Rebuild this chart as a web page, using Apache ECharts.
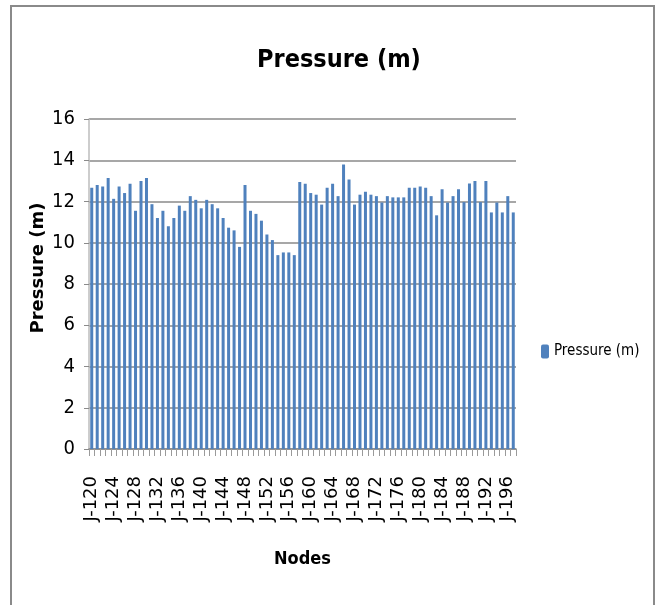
<!DOCTYPE html>
<html>
<head>
<meta charset="utf-8">
<script src="https://cdn.jsdelivr.net/npm/echarts@6/dist/echarts.min.js"></script>
<style>
html,body{margin:0;padding:0;background:#fff;}
#chart{width:660px;height:605px;}
</style>
</head>
<body>
<div id="chart"></div>
<script>
const categories = [
  'J-120','J-121','J-122','J-123','J-124','J-125','J-126','J-127','J-128','J-129',
  'J-130','J-131','J-132','J-133','J-134','J-135','J-136','J-137','J-138','J-139',
  'J-140','J-141','J-142','J-143','J-144','J-145','J-146','J-147','J-148','J-149',
  'J-150','J-151','J-152','J-153','J-154','J-155','J-156','J-157','J-158','J-159',
  'J-160','J-161','J-162','J-163','J-164','J-165','J-166','J-167','J-168','J-169',
  'J-170','J-171','J-172','J-173','J-174','J-175','J-176','J-177','J-178','J-179',
  'J-180','J-181','J-182','J-183','J-184','J-185','J-186','J-187','J-188','J-189',
  'J-190','J-191','J-192','J-193','J-194','J-195','J-196','J-197'
];
const pressure = [
  12.67, 12.80, 12.73, 13.14, 12.13, 12.73, 12.41, 12.86, 11.55, 12.99,
  13.14, 11.87, 11.20, 11.55, 10.80, 11.20, 11.80, 11.55, 12.26, 12.08,
  11.67, 12.08, 11.87, 11.67, 11.20, 10.73, 10.60, 9.80, 12.80, 11.55,
  11.40, 11.07, 10.40, 10.13, 9.40, 9.53, 9.53, 9.40, 12.94, 12.86,
  12.41, 12.33, 11.85, 12.67, 12.86, 12.26, 13.80, 13.07, 11.85, 12.33,
  12.47, 12.33, 12.26, 11.95, 12.26, 12.20, 12.20, 12.20, 12.67, 12.67,
  12.73, 12.67, 12.26, 11.33, 12.60, 11.95, 12.26, 12.60, 11.97, 12.87,
  12.99, 11.97, 12.99, 11.47, 11.95, 11.47, 12.26, 11.47
];
const seriesName = 'Pressure (m)';
const titleText = 'Pressure (m)';
const xName = 'Nodes';
const yName = 'Pressure (m)';

const narrow = '"Liberation Sans Narrow", "DejaVu Sans Condensed", "Arial Narrow", sans-serif';

const chart = echarts.init(document.getElementById('chart'), null, {renderer: 'canvas'});
chart.setOption({
  animation: false,
  backgroundColor: '#ffffff',
  graphic: [{
    type: 'rect',
    shape: {x: 11, y: 6, width: 643, height: 640},
    style: {fill: 'none', stroke: '#8a8a8a', lineWidth: 2},
    silent: true
  }],
  title: {
    text: titleText,
    left: 334,
    textAlign: 'center',
    top: 43,
    textStyle: {fontFamily: narrow, fontWeight: 'bold', fontSize: 25, color: '#000'}
  },
  legend: {
    orient: 'vertical',
    left: 536,
    top: 339,
    itemWidth: 8,
    itemHeight: 14,
    itemGap: 6,
    textStyle: {fontFamily: narrow, fontSize: 15, color: '#000'},
    data: [seriesName]
  },
  grid: {left: 89, right: 144, top: 119, bottom: 156, containLabel: false},
  xAxis: {
    type: 'category',
    data: categories,
    name: xName,
    nameLocation: 'middle',
    nameGap: 101,
    nameTextStyle: {fontFamily: narrow, fontWeight: 'bold', fontSize: 18, color: '#000'},
    axisLine: {show: true, lineStyle: {color: '#8a8a8a', width: 1.5}},
    axisTick: {show: true, interval: 0, length: 7, lineStyle: {color: '#9a9a9a', width: 1}},
    axisLabel: {
      interval: 3,
      rotate: 90,
      margin: 27,
      fontFamily: '"DejaVu Sans", sans-serif',
      fontSize: 18,
      color: '#000'
    },
    splitLine: {show: false}
  },
  yAxis: {
    type: 'value',
    min: 0,
    max: 16,
    interval: 2,
    name: yName,
    nameLocation: 'middle',
    nameGap: 42,
    nameMoveOverlap: false,
    nameRotate: 90,
    nameTextStyle: {fontFamily: '"DejaVu Sans", sans-serif', fontWeight: 'bold', fontSize: 18, color: '#000', padding: [0, 0, 0, 32]},
    axisLine: {show: true, lineStyle: {color: '#bcbcbc', width: 1.5}},
    axisTick: {show: true, inside: false, length: 5, lineStyle: {color: '#8a8a8a', width: 1}},
    axisLabel: {fontFamily: narrow, fontSize: 20, color: '#000', margin: 14},
    splitLine: {show: true, lineStyle: {color: '#8a8a8a', width: 1.5}}
  },
  series: [{
    name: seriesName,
    type: 'bar',
    data: pressure,
    barWidth: 3,
    itemStyle: {color: '#4f81bd'}
  }]
});
</script>
</body>
</html>
